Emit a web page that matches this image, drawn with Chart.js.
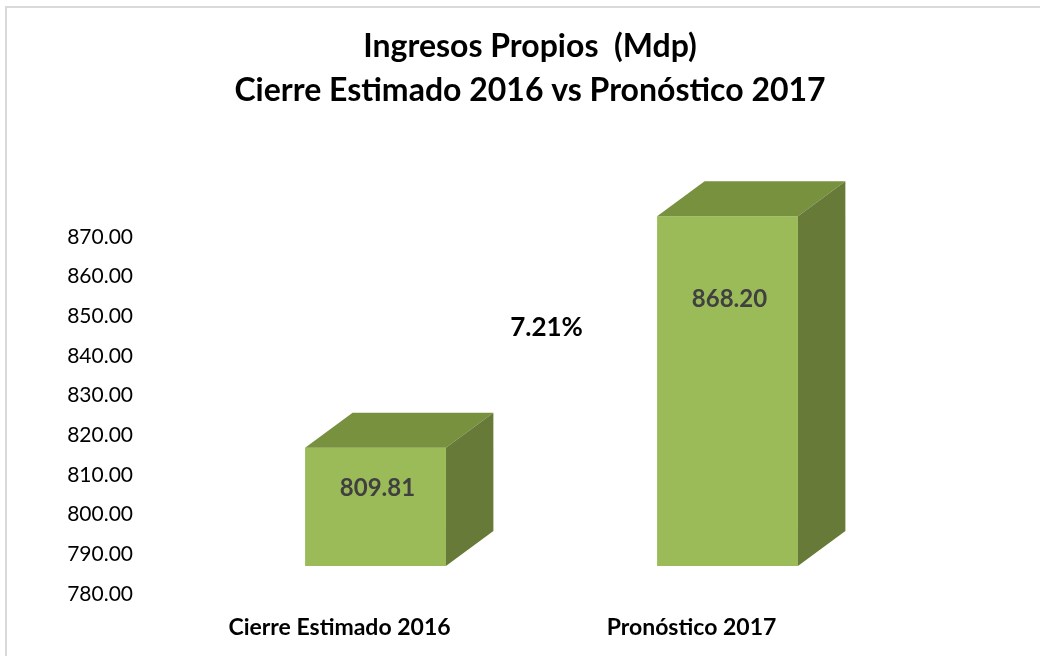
<!DOCTYPE html>
<html>
<head>
<meta charset="utf-8">
<script src="https://cdn.jsdelivr.net/npm/chart.js@4.4.1/dist/chart.umd.min.js"></script>
<style>
  html, body { margin: 0; padding: 0; background: #fff; }
  #wrap { width: 1040px; height: 656px; position: relative; }
</style>
</head>
<body>
<div id="wrap"><canvas id="ingresosChart" width="1040" height="656"></canvas></div>
<script>
// data
const categories = ['Cierre Estimado 2016', 'Pronóstico 2017'];
const ingresos = [809.81, 868.20];
const yTicks = [780, 790, 800, 810, 820, 830, 840, 850, 860, 870];
const titleLines = ['Ingresos Propios  (Mdp)', 'Cierre Estimado 2016 vs Pronóstico 2017'];

const FONT = 'Lato, "Open Sans", sans-serif';
const FRONT = '#9bbb59';
const TOP = '#77913f';
const SIDE = '#677a38';
const DX = 47.5, DY = -35;     // depth of the 3d boxes
const labelDy = [41, 83];      // where excel put the value labels inside the boxes

// frame + title
const framePlugin = {
    id: 'frame',
    beforeDraw(chart) {
        const ctx = chart.ctx;
        ctx.save();
        ctx.fillStyle = '#fff';
        ctx.fillRect(0, 0, chart.width, chart.height);
        ctx.strokeStyle = '#d9d9d9';
        ctx.lineWidth = 2;
        ctx.strokeRect(6, 7, chart.width + 20, chart.height + 20);
        ctx.restore();
    },
    afterDraw(chart) {
        const ctx = chart.ctx;
        ctx.save();
        ctx.fillStyle = '#000';
        ctx.font = 'bold 32px ' + FONT;
        ctx.textAlign = 'center';
        ctx.textBaseline = 'middle';
        titleLines.forEach((t, i) => ctx.fillText(t, 530, 47 + i * 44));
        ctx.restore();
    }
};

// top + side faces, value labels, growth %
const cubePlugin = {
    id: 'cubes',
    afterDatasetsDraw(chart) {
        const ctx = chart.ctx;
        const bars = chart.getDatasetMeta(0).data;
        const floor = chart.scales.y.getPixelForValue(yTicks[0]);
        ctx.save();
        bars.forEach((bar, i) => {
            const p = bar.getProps(['x', 'y', 'width'], true);
            const x0 = p.x - p.width / 2, x1 = p.x + p.width / 2;
            ctx.fillStyle = TOP;
            ctx.beginPath();
            ctx.moveTo(x0, p.y);
            ctx.lineTo(x0 + DX, p.y + DY);
            ctx.lineTo(x1 + DX, p.y + DY);
            ctx.lineTo(x1, p.y);
            ctx.closePath();
            ctx.fill();
            ctx.fillStyle = SIDE;
            ctx.beginPath();
            ctx.moveTo(x1, p.y);
            ctx.lineTo(x1 + DX, p.y + DY);
            ctx.lineTo(x1 + DX, floor + DY);
            ctx.lineTo(x1, floor);
            ctx.closePath();
            ctx.fill();

            ctx.fillStyle = '#404040';
            ctx.font = 'bold 24px ' + FONT;
            ctx.textAlign = 'center';
            ctx.textBaseline = 'middle';
            ctx.fillText(ingresos[i].toFixed(2), p.x + 2, p.y + labelDy[i]);
        });

        const growth = (ingresos[1] / ingresos[0] - 1) * 100;
        const gx = (bars[0].x + bars[1].x) / 2 - 5;
        const gy = (bars[0].y + bars[1].y) / 2 - 4;
        ctx.fillStyle = '#000';
        ctx.font = 'bold 26px ' + FONT;
        ctx.textAlign = 'center';
        ctx.textBaseline = 'middle';
        ctx.fillText(growth.toFixed(2) + '%', gx, gy);
        ctx.restore();
    }
};

const ctx = document.getElementById('ingresosChart').getContext('2d');
const ingresosChart = new Chart(ctx, {
    type: 'bar',
    data: {
        labels: categories,
        datasets: [{
            label: 'Ingresos Propios',
            data: ingresos,
            backgroundColor: FRONT,
            borderWidth: 0,
            barPercentage: 0.4,
            categoryPercentage: 1
        }]
    },
    options: {
        responsive: false,
        animation: false,
        layout: {
            padding: { left: 20, right: 136.5, top: 209, bottom: 0 }
        },
        plugins: {
            legend: { display: false },
            title: { display: false },
            tooltip: { enabled: false }
        },
        scales: {
            x: {
                grid: { display: false, drawTicks: false },
                border: { display: false },
                ticks: {
                    color: '#000',
                    font: { family: FONT, size: 23, weight: 'bold' },
                    padding: 48,
                    labelOffset: -36,
                    maxRotation: 0,
                    autoSkip: false
                },
                afterFit(scale) { scale.height = 90; }
            },
            y: {
                min: 780,
                max: 870,
                grid: { display: false, drawTicks: false },
                border: { display: false },
                afterBuildTicks(scale) {
                    scale.ticks = yTicks.map(v => ({ value: v }));
                },
                ticks: {
                    color: '#000',
                    font: { family: FONT, size: 21 },
                    padding: 66.5,
                    labelOffset: 28,
                    callback: v => Number(v).toFixed(2)
                },
                afterFit(scale) { scale.width = 179.5; }
            }
        }
    },
    plugins: [framePlugin, cubePlugin]
});
</script>
</body>
</html>
